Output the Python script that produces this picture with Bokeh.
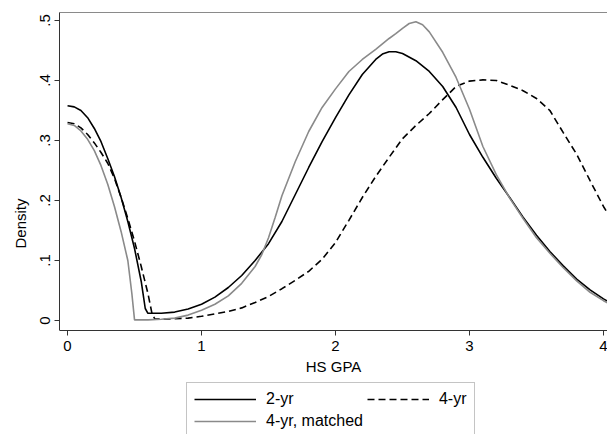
from bokeh.plotting import figure
from bokeh.models import (Legend, LegendItem, FixedTicker, Range1d,
                          CustomJSTickFormatter, LinearAxis)
from bokeh.embed import file_html
from bokeh.resources import INLINE

FONT = "Liberation Sans"

# 2-yr (solid black)
x_2yr = [0.0, 0.05, 0.1, 0.15, 0.2, 0.25, 0.3, 0.35, 0.4, 0.45, 0.5, 0.55, 0.58, 0.6,
         0.7, 0.8, 0.9, 1.0, 1.1, 1.2, 1.3, 1.4, 1.5, 1.6, 1.7, 1.8, 1.9, 2.0, 2.1, 2.2,
         2.3, 2.35, 2.4, 2.45, 2.5, 2.6, 2.7, 2.8, 2.9, 3.0, 3.1, 3.2, 3.3, 3.4, 3.5, 3.6, 3.7, 3.8,
         3.9, 4.0, 4.05]
y_2yr = [0.358, 0.356, 0.35, 0.338, 0.32, 0.298, 0.27, 0.24, 0.205, 0.165, 0.12, 0.065, 0.02, 0.012,
         0.012, 0.014, 0.019, 0.027, 0.039, 0.055, 0.075, 0.1, 0.128, 0.165, 0.21, 0.255, 0.298, 0.338, 0.376, 0.41,
         0.435, 0.444, 0.448, 0.448, 0.445, 0.433, 0.415, 0.39, 0.355, 0.31, 0.272, 0.237, 0.205, 0.172, 0.142, 0.115,
         0.091, 0.069, 0.051, 0.036, 0.03]

# 4-yr (dashed black)
x_4yr = [0.0, 0.05, 0.1, 0.15, 0.2, 0.25, 0.3, 0.35, 0.4, 0.45, 0.5, 0.55, 0.6, 0.63, 0.65,
         0.7, 0.8, 0.9, 1.0, 1.1, 1.2, 1.3, 1.4, 1.5, 1.6, 1.7, 1.8, 1.9, 2.0, 2.1, 2.2,
         2.3, 2.4, 2.5, 2.6, 2.7, 2.8, 2.9, 3.0, 3.1, 3.2, 3.3, 3.4, 3.5, 3.6, 3.7, 3.8,
         3.9, 4.0, 4.05]
y_4yr = [0.33, 0.328, 0.321, 0.31, 0.296, 0.28, 0.262, 0.237, 0.205, 0.17, 0.132, 0.09, 0.045, 0.012, 0.003,
         0.002, 0.003, 0.004, 0.007, 0.011, 0.015, 0.021, 0.03, 0.04, 0.053, 0.067, 0.082, 0.102, 0.13, 0.167, 0.205,
         0.24, 0.272, 0.303, 0.325, 0.345, 0.368, 0.39, 0.399, 0.401, 0.4, 0.392, 0.383, 0.37, 0.35, 0.313, 0.277,
         0.233, 0.19, 0.172]

# 4-yr, matched (solid gray)
x_match = [0.0, 0.05, 0.1, 0.15, 0.2, 0.25, 0.3, 0.35, 0.4, 0.45, 0.48, 0.5,
           0.6, 0.7, 0.8, 0.9, 1.0, 1.1, 1.2, 1.3, 1.4, 1.45, 1.5, 1.55, 1.6, 1.7, 1.8, 1.9, 2.0,
           2.1, 2.2, 2.3, 2.4, 2.45, 2.5, 2.55, 2.6, 2.65, 2.7, 2.8, 2.9, 3.0, 3.1, 3.2, 3.3, 3.4,
           3.5, 3.6, 3.7, 3.8, 3.9, 4.0, 4.05]
y_match = [0.328, 0.325, 0.316, 0.302, 0.283, 0.258, 0.227, 0.19, 0.148, 0.1, 0.045, 0.001,
           0.001, 0.002, 0.004, 0.009, 0.017, 0.027, 0.041, 0.062, 0.09, 0.11, 0.138, 0.172, 0.208, 0.265, 0.315,
           0.355, 0.386, 0.415, 0.435, 0.452, 0.47, 0.478, 0.487, 0.495, 0.498, 0.493, 0.481, 0.447, 0.405, 0.352,
           0.29, 0.243, 0.204, 0.17, 0.138, 0.112, 0.088, 0.066, 0.047, 0.033, 0.027]

x_ticks = [0, 1, 2, 3, 4]
y_ticks = [0, 0.1, 0.2, 0.3, 0.4, 0.5]
labels = ["2-yr", "4-yr", "4-yr, matched"]

Y_AXIS_BOTTOM = -0.0167
Y_TOP = 0.5133

p = figure(width=607, height=434, output_backend="svg", toolbar_location=None,
           x_range=Range1d(-0.06, 4.03), y_range=Range1d(-0.19, Y_TOP),
           min_border_left=59, min_border_top=12, min_border_right=0, min_border_bottom=0)
p.grid.visible = False
p.outline_line_color = None
p.background_fill_color = "white"
p.border_fill_color = "white"

r1 = p.line(x_2yr, y_2yr, line_color="black", line_width=1.6)
r2 = p.line(x_4yr, y_4yr, line_color="black", line_width=1.6, line_dash="7 4")
r3 = p.line(x_match, y_match, line_color="#8a8a8a", line_width=1.6)

for ax in (p.xaxis[0], p.yaxis[0]):
    ax.axis_line_color = "#333333"
    ax.major_tick_line_color = "#333333"
    ax.minor_tick_line_color = None
    ax.major_tick_in = 0
    ax.major_tick_out = 5
    ax.major_label_text_font = FONT
    ax.major_label_text_font_size = "15px"
    ax.major_label_text_color = "black"
    ax.axis_label_text_font = FONT
    ax.axis_label_text_font_size = "15px"
    ax.axis_label_text_font_style = "normal"
    ax.axis_label_text_color = "black"

p.xaxis.ticker = FixedTicker(ticks=x_ticks)
p.xaxis.axis_label = "HS GPA"
p.xaxis.major_label_standoff = 5
p.xaxis.axis_label_standoff = 4
p.xaxis[0].fixed_location = Y_AXIS_BOTTOM

p.yaxis.ticker = FixedTicker(ticks=y_ticks)
p.yaxis.bounds = (Y_AXIS_BOTTOM, Y_TOP)
p.yaxis.axis_label = "Density"
p.yaxis.major_label_orientation = "vertical"
p.yaxis.major_label_standoff = 4
p.yaxis.axis_label_standoff = 9
p.yaxis.formatter = CustomJSTickFormatter(
    code="if (Math.abs(tick) < 1e-9) { return '0'; } return tick.toFixed(1).replace(/^0/, '');")

top = LinearAxis(ticker=FixedTicker(ticks=x_ticks), axis_line_color="#8a8a8a",
                 major_tick_line_color=None, minor_tick_line_color=None,
                 major_tick_in=0, major_tick_out=0, major_label_standoff=0,
                 major_label_text_font_size="1px", major_label_text_alpha=0.0)
p.add_layout(top, "above")

legend = Legend(items=[LegendItem(label=labels[0], renderers=[r1]),
                       LegendItem(label=labels[1], renderers=[r2]),
                       LegendItem(label=labels[2], renderers=[r3])],
                ncols=2, orientation="horizontal", location=(127, -4),
                glyph_width=62, glyph_height=18, label_standoff=10,
                label_text_font=FONT, label_text_font_size="16px",
                label_text_color="black",
                spacing=4, padding=7, margin=0,
                border_line_color="#8a8a8a", border_line_width=1,
                background_fill_alpha=1.0)
p.add_layout(legend, "center")

open("out.html", "w").write(file_html(p, INLINE))
